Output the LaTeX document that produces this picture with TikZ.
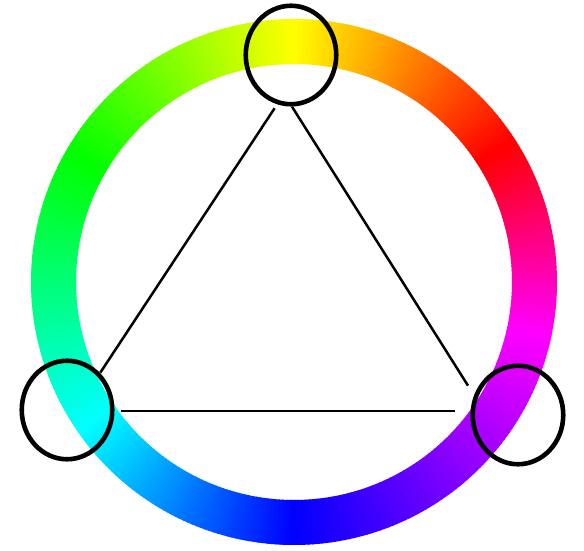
\documentclass[tikz,border=0pt]{standalone}
\usepackage{xcolor}
\usetikzlibrary{shapes.geometric, positioning}

\begin{document}
\begin{tikzpicture}[x=1pt, y=1pt,
marker/.style={ellipse, draw=black, line width=4.6pt, fill=none,
minimum width=90.5pt, minimum height=98.5pt, inner sep=0pt},
side/.style={draw=black, line width=2.5pt}]
\useasboundingbox (0,0) rectangle (584,550);

% hue ring, built from thin wedges
\begin{scope}[shift={(294,268)}]
\foreach \angA/\angB/\hueA/\hueB in {-90/-12/240/300, -12/33/300/360, 33/90/0/60,
    90/150/60/120, 150/215/120/180, 215/270/180/240} {
  \pgfmathtruncatemacro{\steps}{\angB-\angA}
  \foreach \k in {1,...,\steps} {
    \pgfmathsetmacro{\angS}{\angA+\k-1}
    \pgfmathsetmacro{\angE}{\angS+1.3}
    \pgfmathsetmacro{\hueV}{\hueA+(\hueB-\hueA)*(\k-0.5)/\steps}
    \definecolor{ringhue}{Hsb}{\hueV,1,1}
    \fill[ringhue] (\angS:218) -- (\angS:263)
      arc[start angle=\angS, end angle=\angE, radius=263]
      -- (\angE:218) arc[start angle=\angE, end angle=\angS, radius=218] -- cycle;
  }
}
\end{scope}

% triangle corners
\coordinate (apexTop) at (284,456);
\coordinate (apexLeft) at (75,139);
\coordinate (apexRight) at (484,139);

\draw[side, shorten <=17pt, shorten >=46pt] (apexTop) -- (apexLeft);
\draw[side, shorten <=15pt, shorten >=30pt] (apexTop) -- (apexRight);
\draw[side, shorten <=46pt, shorten >=29pt] (apexLeft) -- (apexRight);

% marked hues
\node[marker] (yellowmark) at (291,495) {};
\node[marker] (cyanmark) at (67,140) {};
\node[marker] (violetmark) at (518,135) {};
\end{tikzpicture}
\end{document}
